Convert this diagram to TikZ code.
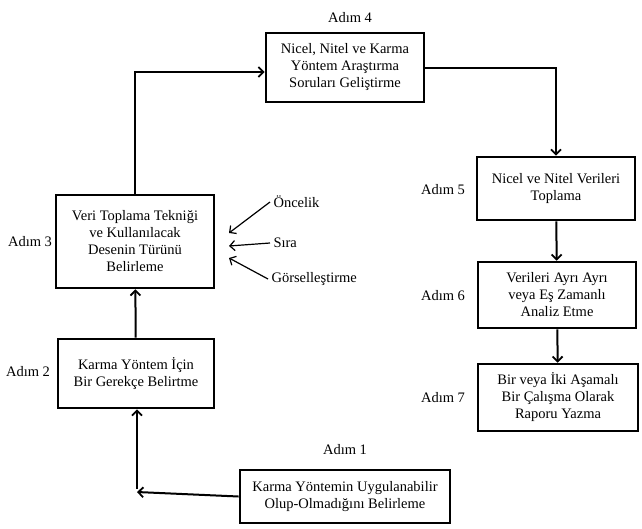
\documentclass[tikz,border=0pt]{standalone}
\usepackage{fontspec}
\setmainfont{Liberation Serif}
\newfontfamily\tnr{Liberation Serif}
\usetikzlibrary{arrows.meta}
\begin{document}
\begin{tikzpicture}[x=1pt,y=-1pt,
  stepbox/.style={draw,line width=2.6pt,align=center,inner sep=0pt,font=\tnr\fontsize{14.5}{17}\selectfont},
  lbl/.style={font=\tnr\fontsize{14.5}{17}\selectfont},
  flow/.style={line width=2pt,-{Straight Barb[length=5pt,width=10pt,line width=1.8pt]}},
  thin/.style={line width=1.2pt,-{Straight Barb[length=5pt,width=10pt,line width=1.2pt]}}]
\useasboundingbox (0,0) rectangle (642,528);
\node[stepbox,minimum width=158pt,minimum height=69pt] (b4) at (345,67.5) {Nicel, Nitel ve Karma\\Yöntem Araştırma\\Soruları Geliştirme};
\node[stepbox,minimum width=158pt,minimum height=93pt] (b3) at (135,241.5) {Veri Toplama Tekniği\\ve Kullanılacak\\Desenin Türünü\\Belirleme};
\node[stepbox,minimum width=156pt,minimum height=69pt] (b2) at (136,373.5) {Karma Yöntem İçin\\Bir Gerekçe Belirtme};
\node[stepbox,minimum width=210pt,minimum height=53pt] (b1) at (345,496.5) {Karma Yöntemin Uygulanabilir\\Olup-Olmadığını Belirleme};
\node[stepbox,minimum width=158pt,minimum height=63pt] (b5) at (556,188.5) {Nicel ve Nitel Verileri\\Toplama};
\node[stepbox,minimum width=158pt,minimum height=66pt] (b6) at (557,295) {Verileri Ayrı Ayrı\\veya Eş Zamanlı\\Analiz Etme};
\node[stepbox,minimum width=160pt,minimum height=67pt] (b7) at (558,397.5) {Bir veya İki Aşamalı\\Bir Çalışma Olarak\\Raporu Yazma};
\node[lbl] (a4) at (350,18) {Adım 4};
\node[lbl] (a3) at (30,242) {Adım 3};
\node[lbl] (a2) at (28,372) {Adım 2};
\node[lbl] (a1) at (345,450) {Adım 1};
\node[lbl] (a5) at (443,190) {Adım 5};
\node[lbl] (a6) at (443,296) {Adım 6};
\node[lbl] (a7) at (443,398) {Adım 7};
\node[lbl,anchor=west] (o1) at (270,202) {Öncelik};
\node[lbl,anchor=west] (o2) at (270,243) {Sıra};
\node[lbl,anchor=west] (o3) at (268,279) {Görselleştirme};
\coordinate (c1) at (137,492);
\coordinate (c3) at (135,72);
\draw[flow] (b1.west) -- (c1);
\draw[flow] ([yshift=3pt]c1) -- (b2.south -| c1);
\draw[flow] (b2) -- (b3);
\draw[flow] (b3.north) |- (b4.west |- c3);
\draw[flow] (b4.east) -| (b5.north);
\draw[flow] (b5) -- (b6);
\draw[flow] (b6) -- (b7);
\draw[thin] (o1.west) -- (229,233);
\draw[thin] (o2.west) -- (229,246);
\draw[thin] (o3.west) -- (229,258);
\end{tikzpicture}
\end{document}
